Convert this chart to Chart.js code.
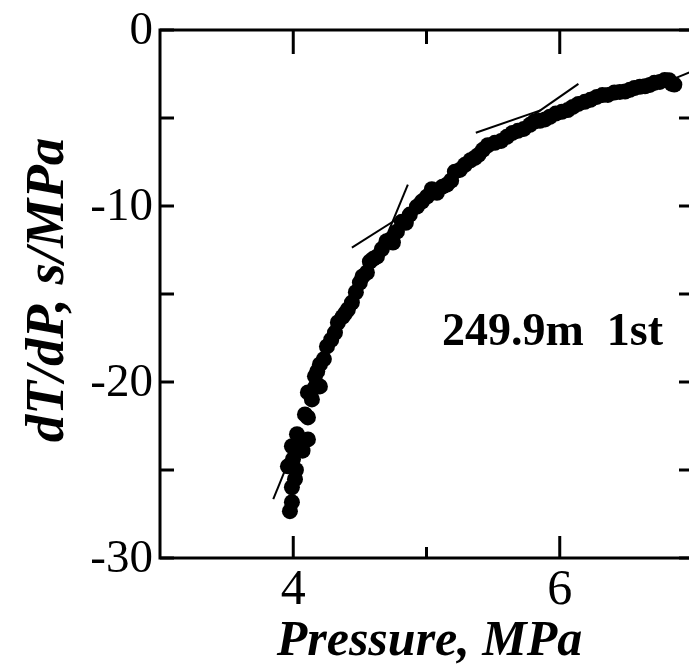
<!DOCTYPE html>
<html>
<head>
<meta charset="utf-8">
<script src="https://cdn.jsdelivr.net/npm/chart.js@4/dist/chart.umd.min.js"></script>
<style>
  html, body { margin: 0; padding: 0; background: #fff; overflow: hidden; }
  #wrap { width: 689px; height: 664px; overflow: hidden; position: relative; }
  #c { position: absolute; left: 0; top: 0; }
</style>
</head>
<body>
<div id="wrap"><canvas id="c" width="710" height="664"></canvas></div>
<script>
// Measured pressure (MPa) and derivative dT/dP (s/MPa)
const pressure = [
  3.975, 3.990, 3.990, 4.013, 3.960, 3.998, 4.020, 3.990, 4.050, 4.028,
  4.070, 4.110, 4.088, 4.110, 4.140, 4.110, 4.163, 4.200, 4.163, 4.180,
  4.200, 4.230, 4.253, 4.285, 4.313, 4.335, 4.370, 4.390, 4.410, 4.440,
  4.470, 4.500, 4.520, 4.553, 4.575, 4.600, 4.628, 4.665, 4.700, 4.730,
  4.748, 4.778, 4.815, 4.845, 4.875, 4.928, 4.965, 5.003, 5.040, 5.078,
  5.120, 5.153, 5.185, 5.213, 5.250, 5.288, 5.330, 5.363, 5.390, 5.423,
  5.460, 5.513, 5.560, 5.603, 5.645, 5.686, 5.730, 5.776, 5.810, 5.851,
  5.890, 5.926, 5.970, 6.016, 6.060, 6.098, 6.140, 6.188, 6.230, 6.278,
  6.320, 6.361, 6.410, 6.451, 6.490, 6.526, 6.560, 6.601, 6.640, 6.676,
  6.710, 6.751, 6.788, 6.820, 6.841, 6.860
];
const dTdP = [
  -27.34, -26.83, -25.98, -25.52, -24.79, -24.39, -25.00, -23.65, -23.54, -22.97,
  -23.90, -23.26, -21.84, -22.01, -20.99, -20.59, -20.31, -20.25, -19.68, -19.40,
  -19.00, -18.70, -17.98, -17.60, -17.19, -16.62, -16.30, -16.10, -15.88, -15.49,
  -14.90, -14.35, -14.00, -13.78, -13.16, -13.00, -12.88, -12.45, -12.00, -11.90,
  -12.08, -11.46, -10.89, -10.95, -10.49, -10.04, -9.75, -9.47, -9.05, -9.25,
  -8.90, -8.79, -8.55, -8.05, -7.95, -7.66, -7.40, -7.26, -7.10, -6.81,
  -6.55, -6.41, -6.30, -6.07, -5.85, -5.73, -5.62, -5.39, -5.20, -5.16,
  -5.08, -4.93, -4.75, -4.65, -4.55, -4.37, -4.20, -4.08, -3.97, -3.80,
  -3.70, -3.69, -3.55, -3.52, -3.50, -3.40, -3.30, -3.23, -3.20, -3.12,
  -3.00, -2.95, -2.84, -2.85, -3.06, -3.10
];

// Tangent segments drawn along the curve
const tangentLow   = [{ x: 3.85, y: -26.66 }, { x: 4.02, y: -23.5 }];
const tangentMidA  = [{ x: 4.44, y: -12.37 }, { x: 4.80, y: -10.64 }];
const tangentMidB  = [{ x: 4.66, y: -12.45 }, { x: 4.86, y: -8.79 }];
const tangentHighA = [{ x: 5.37, y: -5.84 }, { x: 5.86, y: -4.55 }];
const tangentHighB = [{ x: 5.80, y: -4.85 }, { x: 6.14, y: -3.06 }];
const tangentEnd   = [{ x: 6.80, y: -2.95 }, { x: 7.00, y: -2.33 }];

// Axis ticks
const xMajorTicks = [4, 6];
const xMinorTicks = [5];
const yMajorTicks = [0, -10, -20, -30];
const yMinorTicks = [-5, -15, -25];

const xTitle = 'Pressure, MPa';
const yTitle = 'dT/dP, s/MPa';
const boreholeLabel = '249.9m  1st';

const points = pressure.map((p, i) => ({ x: p, y: dTdP[i] }));

const lineStyle = {
  type: 'line', showLine: true, pointRadius: 0, borderColor: '#000',
  borderWidth: 2, fill: false, tension: 0
};

const serif = '"Liberation Serif", "Times New Roman", serif';

const framePlugin = {
  id: 'frame',
  afterDatasetsDraw(chart) {
    const { ctx, chartArea: a, scales: { x, y } } = chart;
    ctx.save();
    ctx.strokeStyle = '#000';
    ctx.fillStyle = '#000';
    ctx.lineCap = 'butt';

    // frame
    ctx.lineWidth = 3;
    ctx.strokeRect(a.left, a.top, a.right - a.left, a.bottom - a.top);

    // inward ticks
    const tick = (x1, y1, x2, y2) => { ctx.beginPath(); ctx.moveTo(x1, y1); ctx.lineTo(x2, y2); ctx.stroke(); };
    xMajorTicks.forEach(v => {
      const px = x.getPixelForValue(v);
      tick(px, a.bottom, px, a.bottom - 22);
      tick(px, a.top, px, a.top + 24);
    });
    xMinorTicks.forEach(v => {
      const px = x.getPixelForValue(v);
      tick(px, a.bottom, px, a.bottom - 11);
      tick(px, a.top, px, a.top + 14);
    });
    yMajorTicks.concat(yMinorTicks).forEach(v => {
      const py = y.getPixelForValue(v);
      tick(a.left, py, a.left + 14, py);
      tick(a.right, py, a.right - 14, py);
    });

    // tick labels
    ctx.font = '47px ' + serif;
    ctx.textAlign = 'right';
    ctx.textBaseline = 'middle';
    yMajorTicks.forEach(v => {
      ctx.fillText(String(v), a.left - 7, y.getPixelForValue(v) + 2);
    });
    ctx.font = '50px ' + serif;
    ctx.textAlign = 'center';
    ctx.textBaseline = 'top';
    xMajorTicks.forEach(v => {
      ctx.fillText(String(v), x.getPixelForValue(v), a.bottom + 8);
    });

    // axis titles
    ctx.font = 'italic bold 50px ' + serif;
    ctx.textBaseline = 'alphabetic';
    ctx.fillText(xTitle, (x.getPixelForValue(4) + x.getPixelForValue(6)) / 2 + 3, 655);
    ctx.save();
    ctx.font = 'italic bold 55px ' + serif;
    ctx.translate(63, 290);
    ctx.rotate(-Math.PI / 2);
    ctx.fillText(yTitle, 0, 0);
    ctx.restore();

    // annotation
    ctx.font = 'bold 46px ' + serif;
    ctx.textAlign = 'left';
    ctx.fillText(boreholeLabel, 442, y.getPixelForValue(-17.9));
    ctx.restore();
  }
};

new Chart(document.getElementById('c'), {
  type: 'scatter',
  data: {
    datasets: [
      { data: points, pointRadius: 8, pointBackgroundColor: '#000', pointBorderWidth: 0, borderColor: '#000', pointHoverRadius: 8 },
      Object.assign({ data: tangentLow }, lineStyle),
      Object.assign({ data: tangentMidA }, lineStyle),
      Object.assign({ data: tangentMidB }, lineStyle),
      Object.assign({ data: tangentHighA }, lineStyle),
      Object.assign({ data: tangentHighB }, lineStyle),
      Object.assign({ data: tangentEnd }, lineStyle)
    ]
  },
  options: {
    responsive: false,
    animation: false,
    events: [],
    layout: { padding: { left: 160, right: 17, top: 30, bottom: 106 } },
    plugins: { legend: { display: false }, tooltip: { enabled: false } },
    scales: {
      x: { type: 'linear', min: 3, max: 7, display: false },
      y: { type: 'linear', min: -30, max: 0, display: false }
    }
  },
  plugins: [framePlugin]
});
</script>
</body>
</html>
